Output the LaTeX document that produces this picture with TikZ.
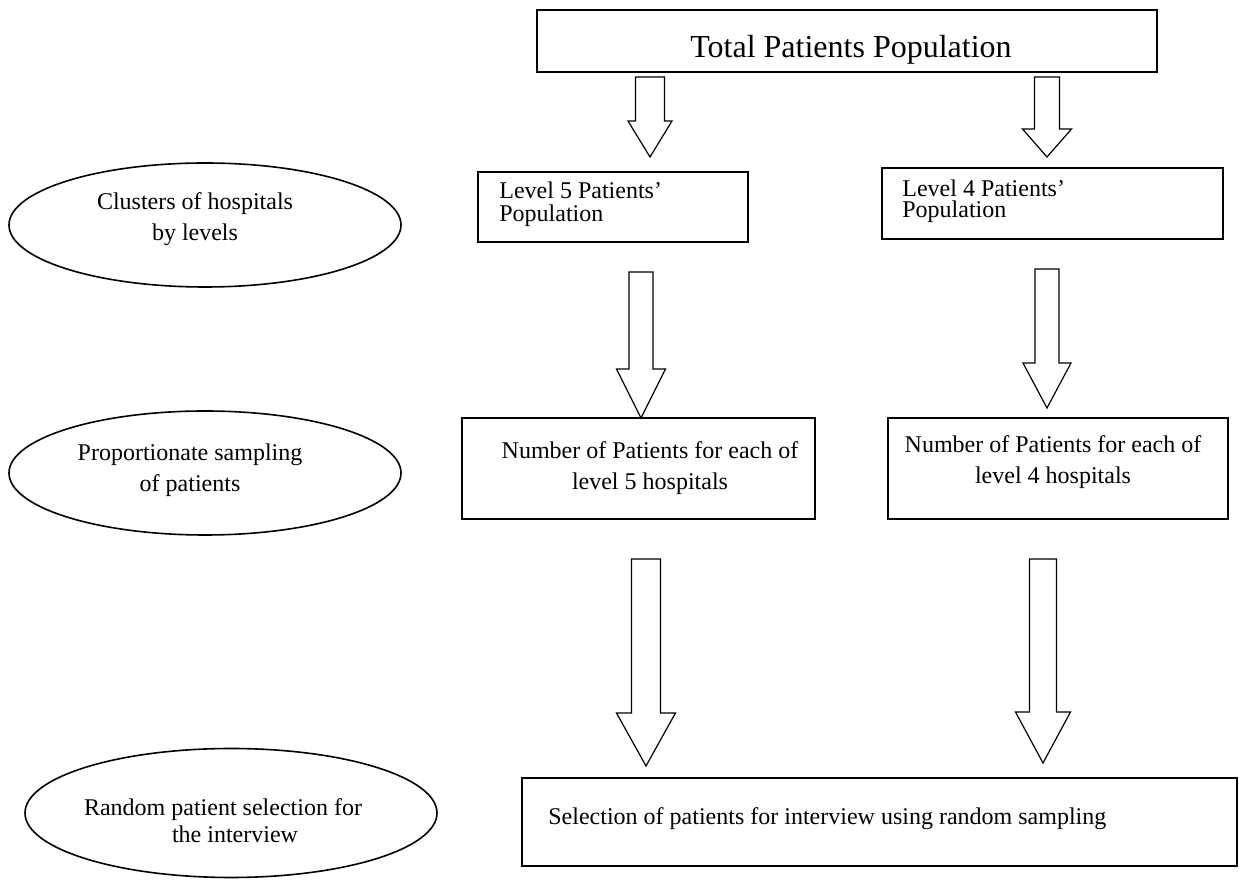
\documentclass[tikz,border=0pt]{standalone}
\usepackage{fontspec}
\setmainfont{Liberation Serif}
\usetikzlibrary{shapes.geometric,calc}
\newcommand\blockdown[5]{% #1 start, #2 tip, #3 shaft half width, #4 head half width, #5 head length
  \draw[barrow] ($(#1)+(-#3,0)$) -- ($(#1)+(#3,0)$) -- ($(#2)+(#3,-#5)$) -- ($(#2)+(#4,-#5)$)
    -- (#2) -- ($(#2)+(-#4,-#5)$) -- ($(#2)+(-#3,-#5)$) -- cycle;}
\begin{document}
\begin{tikzpicture}[x=0.5pt,y=-0.5pt,
  box/.style={draw, line width=0.8pt, inner sep=0pt, rectangle},
  oval/.style={draw, line width=0.8pt, inner sep=0pt, ellipse},
  barrow/.style={draw, line width=0.6pt, line join=miter},
  txt/.style={inner sep=0pt, font=\fontsize{12pt}{14pt}\selectfont},
  big/.style={inner sep=0pt, font=\fontsize{16pt}{19pt}\selectfont}]
\useasboundingbox (0,0) rectangle (1239,881);

% boxes
\node[box, minimum width=310pt, minimum height=31pt] (top) at (847,41) {};
\node[box, minimum width=135pt, minimum height=35pt] (l5) at (613,207) {};
\node[box, minimum width=170.5pt, minimum height=35.5pt] (l4) at (1052.5,203.5) {};
\node[box, minimum width=176.5pt, minimum height=50.5pt] (n5) at (638.5,468.5) {};
\node[box, minimum width=170pt, minimum height=50.5pt] (n4) at (1058,468.5) {};
\node[box, minimum width=357.5pt, minimum height=44pt] (sel) at (879.5,822) {};

% ellipses
\node[oval, minimum width=196pt, minimum height=62pt] (e1) at (205,225) {};
\node[oval, minimum width=196pt, minimum height=62pt] (e2) at (205,473) {};
\node[oval, minimum width=206pt, minimum height=64.5pt] (e3) at (231,813) {};

% texts
\node[big, anchor=base] (ttop) at (851,58) {Total Patients Population};
\node[txt, anchor=base west] (tl5a) at (499,199) {Level 5 Patients’};
\node[txt, anchor=base west] (tl5b) at (499,222) {Population};
\node[txt, anchor=base west] (tl4a) at (902,197) {Level 4 Patients’};
\node[txt, anchor=base west] (tl4b) at (902,218) {Population};
\node[txt, anchor=base] (tn5a) at (650,459) {Number of Patients for each of};
\node[txt, anchor=base] (tn5b) at (650,490) {level 5 hospitals};
\node[txt, anchor=base] (tn4a) at (1053,453) {Number of Patients for each of};
\node[txt, anchor=base] (tn4b) at (1053,484) {level 4 hospitals};
\node[txt, anchor=base west] (tsel) at (548,825) {Selection of patients for interview using random sampling};
\node[txt, anchor=base] (te1a) at (195,210) {Clusters of hospitals};
\node[txt, anchor=base] (te1b) at (195,241) {by levels};
\node[txt, anchor=base] (te2a) at (190,461) {Proportionate sampling};
\node[txt, anchor=base] (te2b) at (190,492) {of patients};
\node[txt, anchor=base] (te3a) at (223,816) {Random patient selection for};
\node[txt, anchor=base] (te3b) at (235,843) {the interview};

% block arrows
\coordinate (a1s) at (650,77);   \coordinate (a1e) at (650,157);
\coordinate (a2s) at (1047,77);  \coordinate (a2e) at (1047,157);
\coordinate (a3s) at (641,272);  \coordinate (a3e) at (641,418);
\coordinate (a4s) at (1047,269); \coordinate (a4e) at (1047,408);
\coordinate (a5s) at (646,559);  \coordinate (a5e) at (646,766);
\coordinate (a6s) at (1043,559); \coordinate (a6e) at (1043,763);
\blockdown{a1s}{a1e}{14.5}{22}{36}
\blockdown{a2s}{a2e}{12.5}{24.5}{28}
\blockdown{a3s}{a3e}{12}{24.5}{49}
\blockdown{a4s}{a4e}{12}{24}{45}
\blockdown{a5s}{a5e}{14.5}{29.5}{53}
\blockdown{a6s}{a6e}{13.5}{27.5}{51}
\end{tikzpicture}
\end{document}
